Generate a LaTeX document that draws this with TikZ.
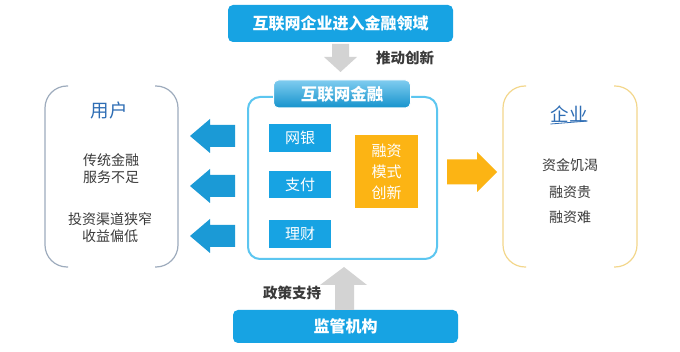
\documentclass[tikz,border=0pt]{standalone}
\usepackage{fontspec}
\setmainfont{Noto Sans CJK SC}
\definecolor{mblue}{HTML}{17A3E3}
\definecolor{ablue}{HTML}{1B9AD6}
\definecolor{fblue}{HTML}{5CC6F0}
\definecolor{morange}{HTML}{FCB414}
\definecolor{agrey}{HTML}{D3D3D3}
\definecolor{tgrey}{HTML}{3A3A3A}
\definecolor{lbrk}{HTML}{9EACBD}
\definecolor{rbrk}{HTML}{F3D78C}
\definecolor{tblue}{HTML}{2E6DB4}
\tikzset{
  bluebar/.style={fill=mblue, rounded corners=5pt, text=white, font=\bfseries\fontsize{16}{18}\selectfont, inner sep=0pt},
  smallbox/.style={fill=mblue, text=white, minimum width=62pt, minimum height=28pt, inner sep=0pt, font=\fontsize{15}{17}\selectfont},
  gtext/.style={text=tgrey, font=\fontsize{14}{17}\selectfont, align=center, inner sep=0pt},
  btext/.style={text=tgrey, font=\bfseries\fontsize{14.5}{16}\selectfont, inner sep=0pt},
  ttext/.style={text=tblue, font=\fontsize{18.5}{20}\selectfont, inner sep=0pt}
}
\begin{document}
\begin{tikzpicture}[x=1pt,y=-1pt]
\useasboundingbox (0,0) rectangle (680,352);
\fill[white] (0,0) rectangle (680,352);

% top bar
\node[bluebar, minimum width=225pt, minimum height=37pt] (top) at (340.5,23.5) {互联网企业进入金融领域};
% grey down arrow
\fill[agrey] (332,44) -- (349,44) -- (349,57) -- (357,57) -- (340.5,72) -- (324,57) -- (332,57) -- cycle;
\node[btext] (push) at (405,58) {推动创新};

% main frame
\node[draw=fblue, line width=2pt, rounded corners=12pt, minimum width=189pt, minimum height=162pt, inner sep=0pt] (frame) at (342.5,178) {};
\node[rounded corners=5pt, top color=mblue!55!white, bottom color=mblue!90!black, draw=white, line width=1pt, minimum width=137pt, minimum height=28pt, inner sep=0pt, text=white, font=\bfseries\fontsize{16.5}{18}\selectfont] (hdr) at (342,94) {互联网金融};

\node[smallbox] (wy) at (300,138) {网银};
\node[smallbox, minimum height=27pt] (zf) at (300,184.5) {支付};
\node[smallbox] (lc) at (300,234) {理财};
\node[fill=morange, text=white, minimum width=63pt, minimum height=73pt, inner sep=0pt, align=center, font=\fontsize{15}{21}\selectfont] (rz) at (386.5,171.5) {融资\\模式\\创新};

% left arrows
\foreach \cy in {136,186,236}{
  \fill[ablue] (235,\cy-11) -- (210,\cy-11) -- (210,\cy-17) -- (190,\cy) -- (210,\cy+17) -- (210,\cy+11) -- (235,\cy+11) -- cycle;
}
% right arrow
\fill[morange] (447,159.5) -- (477,159.5) -- (477,152) -- (497,172) -- (477,192) -- (477,184.5) -- (447,184.5) -- cycle;

% left bracket box
\draw[lbrk, line width=1.2pt, rounded corners=22pt] (68,86) -- (45,86) -- (45,267) -- (68,267);
\draw[lbrk, line width=1.2pt, rounded corners=22pt] (155,86) -- (178,86) -- (178,267) -- (155,267);
\node[ttext] (user) at (109,110) {用户};
\node[gtext] (u1) at (111,169) {传统金融\\服务不足};
\node[gtext] (u2) at (110,227.5) {投资渠道狭窄\\收益偏低};

% right bracket box
\draw[rbrk, line width=1.2pt, rounded corners=22pt] (526,86) -- (503,86) -- (503,267) -- (526,267);
\draw[rbrk, line width=1.2pt, rounded corners=22pt] (614,86) -- (637,86) -- (637,267) -- (614,267);
\node[ttext] (ent) at (569,114) {企业};
\draw[tblue, line width=0.8pt] (ent.south west) ++(0,1.5) -- ([yshift=1.5pt]ent.south east);
\node[gtext] (e1) at (570,165) {资金饥渴};
\node[gtext] (e2) at (570,192) {融资贵};
\node[gtext] (e3) at (570,217) {融资难};

% bottom
\node[bluebar, minimum width=225pt, minimum height=33pt] (reg) at (345.5,326.5) {监管机构};
\fill[agrey] (335,310) -- (335,285) -- (320,285) -- (344,267) -- (367,285) -- (354,285) -- (354,310) -- cycle;
\node[btext] (pol) at (292,293) {政策支持};
\end{tikzpicture}
\end{document}
